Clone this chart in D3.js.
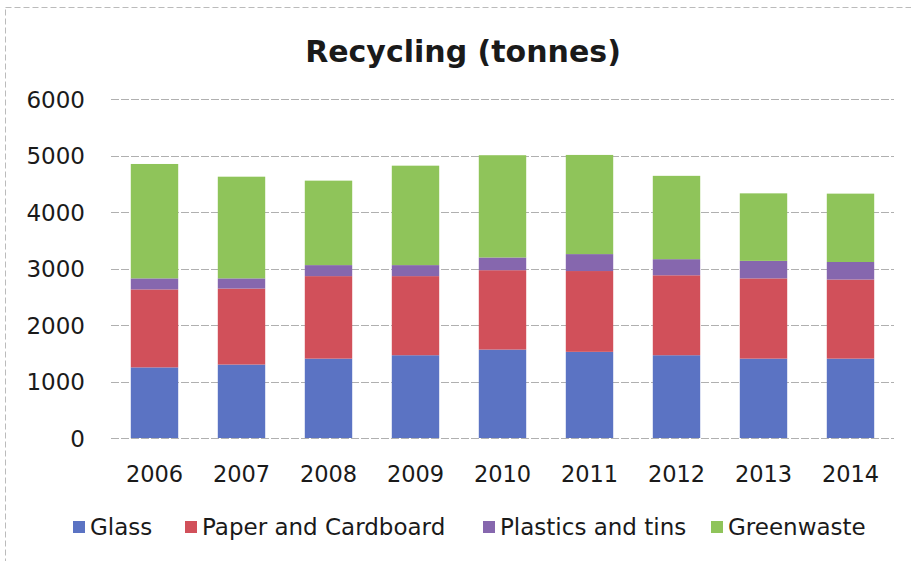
<!DOCTYPE html>
<html><head><meta charset="utf-8">
<script src="https://cdn.jsdelivr.net/npm/d3@7"></script>
<style>body{margin:0;background:#fff}svg{display:block}</style>
</head><body>
<svg id="c" width="911" height="561"></svg>
<script>
const years = ["2006","2007","2008","2009","2010","2011","2012","2013","2014"];
const glass = [1250,1300,1405,1465,1565,1525,1465,1405,1405];
const paper = [1380,1345,1460,1400,1405,1430,1415,1420,1400];
const plastics = [195,180,195,195,225,300,285,310,310];
const greenwaste = [2025,1800,1495,1760,1810,1755,1475,1195,1210];
const seriesNames = ["Glass","Paper and Cardboard","Plastics and tins","Greenwaste"];
const seriesColors = ["#5b73c3","#d1505a","#8667ae","#8fc45a"];
const yTicks = [0,1000,2000,3000,4000,5000,6000];

const svg = d3.select("#c");
const font = "DejaVu Sans, Verdana, sans-serif";
const m = {left:111, right:894, top:99, bottom:438};

svg.append("rect").attr("x",5.5).attr("y",7.5).attr("width",920).attr("height",560)
  .attr("fill","none").attr("stroke","#bbb").attr("stroke-dasharray","6,3");

const x = d3.scaleBand().domain(years).range([m.left,m.right]).paddingInner(0.455).paddingOuter(0.2275);
const y = d3.scaleLinear().domain([0,6000]).range([m.bottom,m.top]);

const rows = years.map((yr,i)=>({year:yr, Glass:glass[i], "Paper and Cardboard":paper[i], "Plastics and tins":plastics[i], Greenwaste:greenwaste[i]}));
const stack = d3.stack().keys(seriesNames)(rows);

// gridlines
svg.append("g").selectAll("line").data(yTicks).join("line")
  .attr("x1",m.left).attr("x2",m.right)
  .attr("y1",d=>Math.round(y(d))+0.5).attr("y2",d=>Math.round(y(d))+0.5)
  .attr("stroke","#b0b0b0").attr("stroke-width",1).attr("stroke-dasharray","8,2");

// y axis labels
const yAxis = d3.axisLeft(y).tickValues(yTicks).tickSize(0).tickPadding(0).tickFormat(d3.format("d"));
const ya = svg.append("g").attr("transform",`translate(${85},0)`).call(yAxis);
ya.select(".domain").remove();
ya.selectAll("text").attr("font-family",font).attr("font-size",23).attr("fill","#1a1a1a").attr("dy","0.35em");

// bars
svg.append("g").selectAll("g").data(stack).join("g")
  .attr("fill",(d,i)=>seriesColors[i])
  .selectAll("rect").data(d=>d).join("rect")
  .attr("x",d=>x(d.data.year)).attr("width",x.bandwidth())
  .attr("y",d=>y(d[1])).attr("height",d=>y(d[0])-y(d[1]));

// x axis labels
const xAxis = d3.axisBottom(x).tickSize(0).tickPadding(0);
const xa = svg.append("g").attr("transform",`translate(0,${m.bottom})`).call(xAxis);
xa.select(".domain").remove();
xa.selectAll("text").attr("font-family",font).attr("font-size",22.5).attr("fill","#1a1a1a").attr("dy","1.95em");

// title
svg.append("text").attr("x",463).attr("y",62).attr("text-anchor","middle")
  .attr("font-family",font).attr("font-weight","bold").attr("font-size",30).attr("fill","#1a1a1a")
  .text("Recycling (tonnes)");

// legend
const legendX = [73,185,483,711];
const lg = svg.append("g").selectAll("g").data(seriesNames).join("g")
  .attr("transform",(d,i)=>`translate(${legendX[i]},527)`);
lg.append("rect").attr("x",0).attr("y",-6).attr("width",12).attr("height",12).attr("fill",(d,i)=>seriesColors[i]);
lg.append("text").attr("x",17).attr("y",0).attr("dy","0.35em")
  .attr("font-family",font).attr("font-size",23).attr("fill","#1a1a1a").text(d=>d);
</script>
</body></html>
